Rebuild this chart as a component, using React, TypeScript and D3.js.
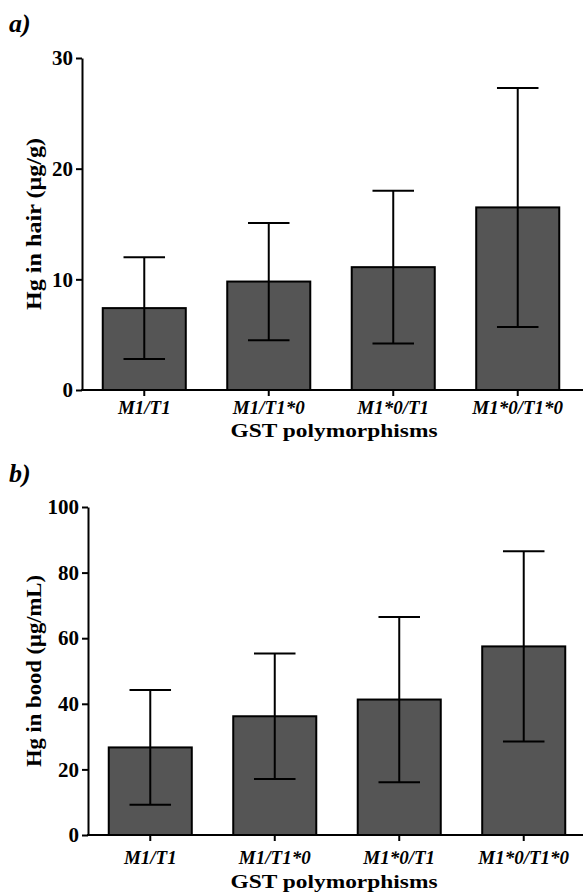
import React, { useEffect, useRef } from 'react';
import * as d3 from 'd3';

const groups = ['M1/T1', 'M1/T1*0', 'M1*0/T1', 'M1*0/T1*0'];

// panel a: Hg in hair
const hairMean = [7.4, 9.8, 11.1, 16.5];
const hairSd = [4.6, 5.3, 6.9, 10.8];
const hairTicks = [0, 10, 20, 30];

// panel b: Hg in blood
const bloodMean = [26.7, 36.2, 41.3, 57.5];
const bloodSd = [17.5, 19.1, 25.2, 29.0];
const bloodTicks = [0, 20, 40, 60, 80, 100];

const FONT = "'Liberation Serif', 'Times New Roman', serif";

const App = () => {
  const ref = useRef(null);

  useEffect(() => {
    const svg = d3.select(ref.current);
    svg.selectAll('*').remove();

    const drawPanel = (cfg) => {
      const { letter, letterY, left, right, top, bottom, max, ticks, means, sds,
        yTitle, yTitleLen, tickLabelY, titleY } = cfg;
      const g = svg.append('g');

      const x = d3.scaleBand()
        .domain(groups)
        .range([left, right])
        .paddingInner(0.333)
        .paddingOuter(0.1667);

      const y = d3.scaleLinear().domain([0, max]).range([bottom, top]);

      // bars
      g.selectAll('rect.bar')
        .data(groups)
        .enter()
        .append('rect')
          .attr('class', 'bar')
          .attr('x', d => x(d))
          .attr('y', (d, i) => y(means[i]))
          .attr('width', x.bandwidth())
          .attr('height', (d, i) => y(0) - y(means[i]))
          .attr('fill', '#555555')
          .attr('stroke', '#000')
          .attr('stroke-width', 2);

      // error bars (mean ± SD)
      const capW = x.bandwidth() / 2;
      groups.forEach((d, i) => {
        const cx = x(d) + x.bandwidth() / 2;
        const hi = y(means[i] + sds[i]);
        const lo = y(means[i] - sds[i]);
        g.append('line')
          .attr('x1', cx).attr('x2', cx).attr('y1', hi).attr('y2', lo)
          .attr('stroke', '#000').attr('stroke-width', 2);
        [hi, lo].forEach(yy => {
          g.append('line')
            .attr('x1', cx - capW / 2).attr('x2', cx + capW / 2)
            .attr('y1', yy).attr('y2', yy)
            .attr('stroke', '#000').attr('stroke-width', 2);
        });
      });

      // y axis
      const ya = g.append('g')
        .attr('transform', `translate(${left},0)`)
        .call(d3.axisLeft(y).tickValues(ticks).tickSize(6).tickSizeOuter(0).tickPadding(3));
      ya.select('.domain').attr('stroke-width', 2);
      ya.selectAll('.tick line').attr('stroke-width', 2);
      ya.selectAll('.tick text')
        .attr('font-family', FONT)
        .attr('font-weight', 'bold')
        .attr('font-size', 21)
        .attr('fill', '#000');

      // x axis
      const xa = g.append('g')
        .attr('transform', `translate(0,${bottom})`)
        .call(d3.axisBottom(x).tickSize(6).tickSizeOuter(0).tickFormat(() => ''));
      xa.select('.domain').attr('stroke-width', 2).attr('d', `M${left - 1},0H${right + 10}`);
      xa.selectAll('.tick line').attr('stroke-width', 2);

      g.selectAll('text.xlab')
        .data(groups)
        .enter()
        .append('text')
          .attr('class', 'xlab')
          .attr('x', d => x(d) + x.bandwidth() / 2)
          .attr('y', tickLabelY)
          .attr('text-anchor', 'middle')
          .attr('font-family', FONT)
          .attr('font-weight', 'bold')
          .attr('font-style', 'italic')
          .attr('font-size', 19)
          .text(d => d);

      // axis titles
      g.append('text')
        .attr('x', 334)
        .attr('y', titleY)
        .attr('text-anchor', 'middle')
        .attr('font-family', FONT)
        .attr('font-weight', 'bold')
        .attr('font-size', 18)
        .attr('textLength', 207)
        .attr('lengthAdjust', 'spacingAndGlyphs')
        .text('GST polymorphisms');

      g.append('text')
        .attr('transform', `translate(41,${(top + bottom) / 2}) rotate(-90)`)
        .attr('text-anchor', 'middle')
        .attr('font-family', FONT)
        .attr('font-weight', 'bold')
        .attr('font-size', 21)
        .attr('textLength', yTitleLen)
        .attr('lengthAdjust', 'spacingAndGlyphs')
        .text(yTitle);

      // panel letter
      g.append('text')
        .attr('x', 9)
        .attr('y', letterY)
        .attr('font-family', FONT)
        .attr('font-weight', 'bold')
        .attr('font-style', 'italic')
        .attr('font-size', 26)
        .text(letter);
    };

    drawPanel({
      letter: 'a)', letterY: 32,
      left: 82, right: 580, top: 58, bottom: 390,
      max: 30, ticks: hairTicks, means: hairMean, sds: hairSd,
      yTitle: 'Hg in hair (μg/g)', yTitleLen: 172, tickLabelY: 414, titleY: 437
    });

    drawPanel({
      letter: 'b)', letterY: 482,
      left: 88, right: 586, top: 507, bottom: 835,
      max: 100, ticks: bloodTicks, means: bloodMean, sds: bloodSd,
      yTitle: 'Hg in bood (μg/mL)', yTitleLen: 192, tickLabelY: 864, titleY: 888
    });
  }, []);

  return (
    <svg
      ref={ref}
      width={583}
      height={896}
      style={{ position: 'absolute', top: 0, left: 0, background: '#fff' }}
    />
  );
};

export default App;
